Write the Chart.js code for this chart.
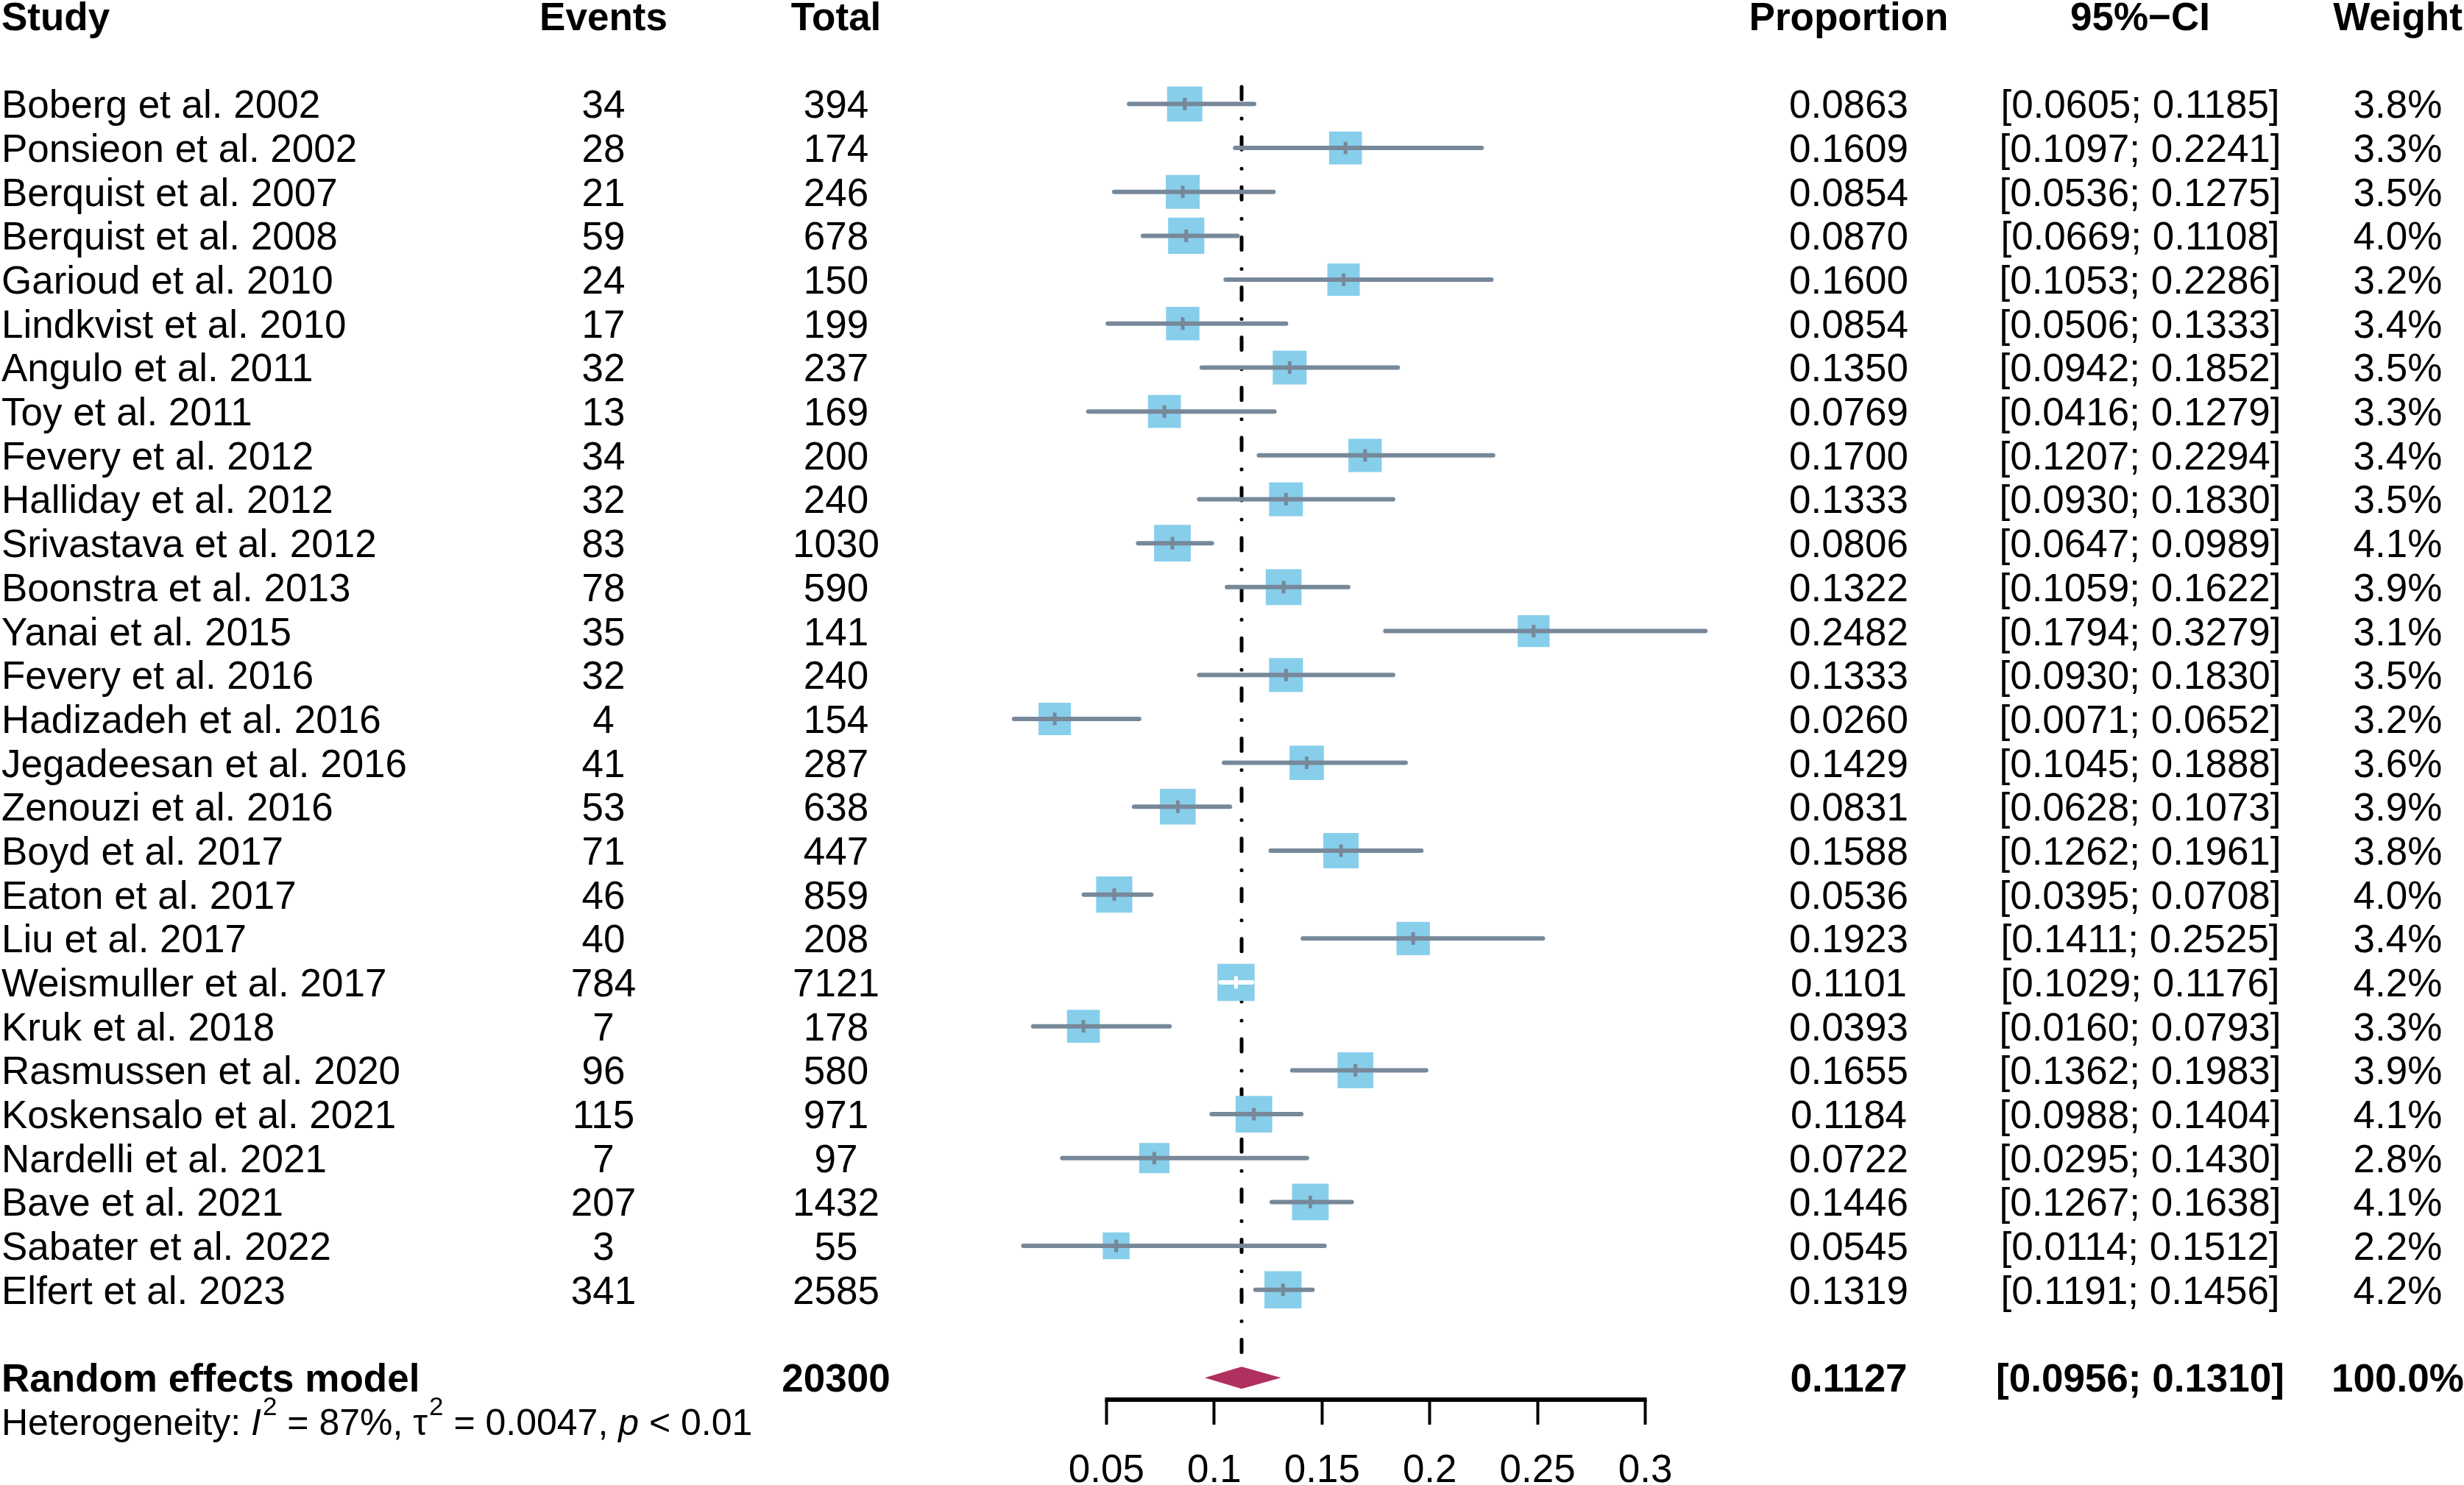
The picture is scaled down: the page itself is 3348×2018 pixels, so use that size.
<!DOCTYPE html>
<html>
<head>
<meta charset="utf-8">
<title>Forest plot</title>
<script src="https://cdn.jsdelivr.net/npm/chart.js@4.4.1/dist/chart.umd.min.js"></script>
<style>
  html, body { margin: 0; padding: 0; background: #fff; overflow: hidden; }
  canvas { display: block; }
</style>
</head>
<body>
<canvas id="forest" width="3348" height="2018"></canvas>
<script>
// study data
const studies = [
  "Boberg et al. 2002", "Ponsieon et al. 2002", "Berquist et al. 2007", "Berquist et al. 2008",
  "Garioud et al. 2010", "Lindkvist et al. 2010", "Angulo et al. 2011", "Toy et al. 2011",
  "Fevery et al. 2012", "Halliday et al. 2012", "Srivastava et al. 2012", "Boonstra et al. 2013",
  "Yanai et al. 2015", "Fevery et al. 2016", "Hadizadeh et al. 2016", "Jegadeesan et al. 2016",
  "Zenouzi et al. 2016", "Boyd et al. 2017", "Eaton et al. 2017", "Liu et al. 2017",
  "Weismuller et al. 2017", "Kruk et al. 2018", "Rasmussen et al. 2020", "Koskensalo et al. 2021",
  "Nardelli et al. 2021", "Bave et al. 2021", "Sabater et al. 2022", "Elfert et al. 2023"
];
const events = [34, 28, 21, 59, 24, 17, 32, 13, 34, 32, 83, 78, 35, 32, 4, 41, 53, 71, 46, 40, 784, 7, 96, 115, 7, 207, 3, 341];
const totals = [394, 174, 246, 678, 150, 199, 237, 169, 200, 240, 1030, 590, 141, 240, 154, 287, 638, 447, 859, 208, 7121, 178, 580, 971, 97, 1432, 55, 2585];
const proportion = [0.0863, 0.1609, 0.0854, 0.0870, 0.1600, 0.0854, 0.1350, 0.0769, 0.1700, 0.1333, 0.0806, 0.1322, 0.2482, 0.1333,
  0.0260, 0.1429, 0.0831, 0.1588, 0.0536, 0.1923, 0.1101, 0.0393, 0.1655, 0.1184, 0.0722, 0.1446, 0.0545, 0.1319];
const ciLower = [0.0605, 0.1097, 0.0536, 0.0669, 0.1053, 0.0506, 0.0942, 0.0416, 0.1207, 0.0930, 0.0647, 0.1059, 0.1794, 0.0930,
  0.0071, 0.1045, 0.0628, 0.1262, 0.0395, 0.1411, 0.1029, 0.0160, 0.1362, 0.0988, 0.0295, 0.1267, 0.0114, 0.1191];
const ciUpper = [0.1185, 0.2241, 0.1275, 0.1108, 0.2286, 0.1333, 0.1852, 0.1279, 0.2294, 0.1830, 0.0989, 0.1622, 0.3279, 0.1830,
  0.0652, 0.1888, 0.1073, 0.1961, 0.0708, 0.2525, 0.1176, 0.0793, 0.1983, 0.1404, 0.1430, 0.1638, 0.1512, 0.1456];
const weights = [3.8, 3.3, 3.5, 4.0, 3.2, 3.4, 3.5, 3.3, 3.4, 3.5, 4.1, 3.9, 3.1, 3.5, 3.2, 3.6, 3.9, 3.8, 4.0, 3.4, 4.2, 3.3, 3.9, 4.1, 2.8, 4.1, 2.2, 4.2];

// random effects model
const pooledLabel = "Random effects model";
const pooledTotal = 20300;
const pooledEst = 0.1127;
const pooledLower = 0.0956;
const pooledUpper = 0.1310;
const pooledWeight = 100.0;

const xTicks = [0.05, 0.1, 0.15, 0.2, 0.25, 0.3];
const xTickLabels = ["0.05", "0.1", "0.15", "0.2", "0.25", "0.3"];
const headers = ["Study", "Events", "Total", "Proportion", "95%\u2212CI", "Weight"];

const FONT = "'Liberation Sans', Arial, Helvetica, sans-serif";
const FS = 53;
const BOX = '#87CEEB';
const LINE = '#778899';
const DIAMOND = '#B03060';

const nStudies = studies.length;
const pooledRow = nStudies + 1;     // one empty row after the studies
const hetRow = pooledRow + 1;

// box side grows with sqrt(weight) => area ~ weight
const boxSide = w => 24.6 * Math.sqrt(w);

function ciInsideBox(chart, i) {
  const xs = chart.scales.x;
  return xs.getPixelForValue(ciUpper[i]) - xs.getPixelForValue(ciLower[i]) <= boxSide(weights[i]);
}

const datasets = [];

// dash-dot line at the pooled estimate
datasets.push({
  type: 'line',
  data: [{ x: pooledEst, y: -0.39 }, { x: pooledEst, y: nStudies + 0.6 }],
  borderColor: '#000',
  borderWidth: 5,
  borderDash: [17, 26, 0.1, 25],
  borderCapStyle: 'round',
  pointRadius: 0,
  clip: false,
  order: 4
});

// study squares
datasets.push({
  type: 'scatter',
  data: proportion.map((p, i) => ({ x: p, y: i })),
  pointStyle: 'rect',
  pointRadius: weights.map(w => boxSide(w) / Math.SQRT2),
  pointBackgroundColor: BOX,
  pointBorderWidth: 0,
  clip: false,
  order: 3
});

// confidence intervals
studies.forEach((s, i) => {
  datasets.push({
    type: 'line',
    data: [{ x: ciLower[i], y: i }, { x: ciUpper[i], y: i }],
    borderColor: LINE,
    borderWidth: 6,
    borderCapStyle: 'round',
    pointRadius: 0,
    segment: {
      borderColor: c => (c.p1.x - c.p0.x) <= boxSide(weights[i]) ? '#fff' : LINE
    },
    clip: false,
    order: 2
  });
});

// small vertical mark at each estimate
datasets.push({
  type: 'scatter',
  data: proportion.map((p, i) => ({ x: p, y: i })),
  pointStyle: 'line',
  pointRotation: 90,
  pointRadius: 8.5,
  pointBorderWidth: 5,
  pointBorderColor: c => ciInsideBox(c.chart, c.dataIndex) ? '#fff' : LINE,
  clip: false,
  order: 1
});

function text(ctx, str, x, y, align, bold, size) {
  ctx.font = (bold ? 'bold ' : '') + (size || FS) + 'px ' + FONT;
  ctx.textAlign = align;
  ctx.fillText(str, x, y);
}

const tablePlugin = {
  id: 'forestTable',
  afterDatasetsDraw(chart) {
    const ctx = chart.ctx;
    const xs = chart.scales.x, ys = chart.scales.y;
    ctx.save();
    // axis line only over the ticked range
    ctx.strokeStyle = '#000';
    ctx.lineWidth = 6;
    ctx.beginPath();
    ctx.moveTo(xs.getPixelForValue(xTicks[0]) - 2, xs.top);
    ctx.lineTo(xs.getPixelForValue(xTicks[xTicks.length - 1]) + 2, xs.top);
    ctx.stroke();
    // summary diamond
    const yc = ys.getPixelForValue(pooledRow);
    ctx.fillStyle = DIAMOND;
    ctx.beginPath();
    ctx.moveTo(xs.getPixelForValue(pooledLower), yc);
    ctx.lineTo(xs.getPixelForValue(pooledEst), yc - 15);
    ctx.lineTo(xs.getPixelForValue(pooledUpper), yc);
    ctx.lineTo(xs.getPixelForValue(pooledEst), yc + 15);
    ctx.closePath();
    ctx.fill();
    ctx.restore();
  },
  afterDraw(chart) {
    const ctx = chart.ctx;
    const ys = chart.scales.y;
    const cols = { study: 2, events: 820, total: 1136, prop: 2512, ci: 2908, weight: 3258 };
    const base = row => ys.getPixelForValue(row) + 0.358 * FS;
    ctx.save();
    ctx.fillStyle = '#000';
    ctx.textBaseline = 'alphabetic';

    const hy = base(-2);
    text(ctx, headers[0], cols.study, hy, 'left', true);
    text(ctx, headers[1], cols.events, hy, 'center', true);
    text(ctx, headers[2], cols.total, hy, 'center', true);
    text(ctx, headers[3], cols.prop, hy, 'center', true);
    text(ctx, headers[4], cols.ci, hy, 'center', true);
    text(ctx, headers[5], cols.weight, hy, 'center', true);

    studies.forEach((s, i) => {
      const y = base(i);
      text(ctx, s, cols.study, y, 'left', false);
      text(ctx, String(events[i]), cols.events, y, 'center', false);
      text(ctx, String(totals[i]), cols.total, y, 'center', false);
      text(ctx, proportion[i].toFixed(4), cols.prop, y, 'center', false);
      text(ctx, '[' + ciLower[i].toFixed(4) + '; ' + ciUpper[i].toFixed(4) + ']', cols.ci, y, 'center', false);
      text(ctx, weights[i].toFixed(1) + '%', cols.weight, y, 'center', false);
    });

    const py = base(pooledRow);
    text(ctx, pooledLabel, cols.study, py, 'left', true);
    text(ctx, String(pooledTotal), cols.total, py, 'center', true);
    text(ctx, pooledEst.toFixed(4), cols.prop, py, 'center', true);
    text(ctx, '[' + pooledLower.toFixed(4) + '; ' + pooledUpper.toFixed(4) + ']', cols.ci, py, 'center', true);
    text(ctx, pooledWeight.toFixed(1) + '%', cols.weight, py, 'center', true);

    // heterogeneity line with italics and superscripts
    const hs = 50, sup = 35;
    const ty = ys.getPixelForValue(hetRow) + 0.358 * hs;
    const parts = [
      ['Heterogeneity: ', ''], ['I', 'italic '], ['2', 'sup'], [' = 87%, ', ''],
      ['\u03C4', ''], ['2', 'sup'], [' = 0.0047, ', ''], ['p', 'italic '], [' < 0.01', '']
    ];
    let x = cols.study;
    ctx.textAlign = 'left';
    parts.forEach(([str, st]) => {
      if (st === 'sup') {
        ctx.font = sup + 'px ' + FONT;
        ctx.fillText(str, x + 2, ty - 27);
        x += ctx.measureText(str).width + 2;
      } else {
        ctx.font = st + hs + 'px ' + FONT;
        ctx.fillText(str, x, ty);
        x += ctx.measureText(str).width;
      }
    });
    ctx.restore();
  }
};

new Chart(document.getElementById('forest'), {
  type: 'scatter',
  data: { datasets: datasets },
  options: {
    responsive: false,
    animation: false,
    devicePixelRatio: 1,
    events: [],
    // x = 0 sits at 1357px, 0.35 at 2382px
    layout: { autoPadding: false, padding: { left: 1357, right: 966, top: 22, bottom: 0 } },
    scales: {
      x: {
        type: 'linear',
        min: 0,
        max: 0.35,
        afterBuildTicks: s => { s.ticks = xTicks.map(v => ({ value: v })); },
        afterFit: s => { s.height = 116; },
        ticks: {
          callback: (v, i) => xTickLabels[i],
          autoSkip: false,
          maxRotation: 0,
          padding: 32,
          color: '#000',
          font: { family: FONT, size: FS }
        },
        grid: {
          display: true,
          drawOnChartArea: false,
          drawTicks: true,
          tickLength: 34,
          tickWidth: 4,
          tickColor: '#000',
          color: '#000'
        },
        border: { display: false }
      },
      y: {
        type: 'linear',
        min: -2,
        max: 29.5,
        reverse: true,
        display: false
      }
    },
    plugins: {
      legend: { display: false },
      tooltip: { enabled: false },
      title: { display: false }
    }
  },
  plugins: [tablePlugin]
});
</script>
</body>
</html>
